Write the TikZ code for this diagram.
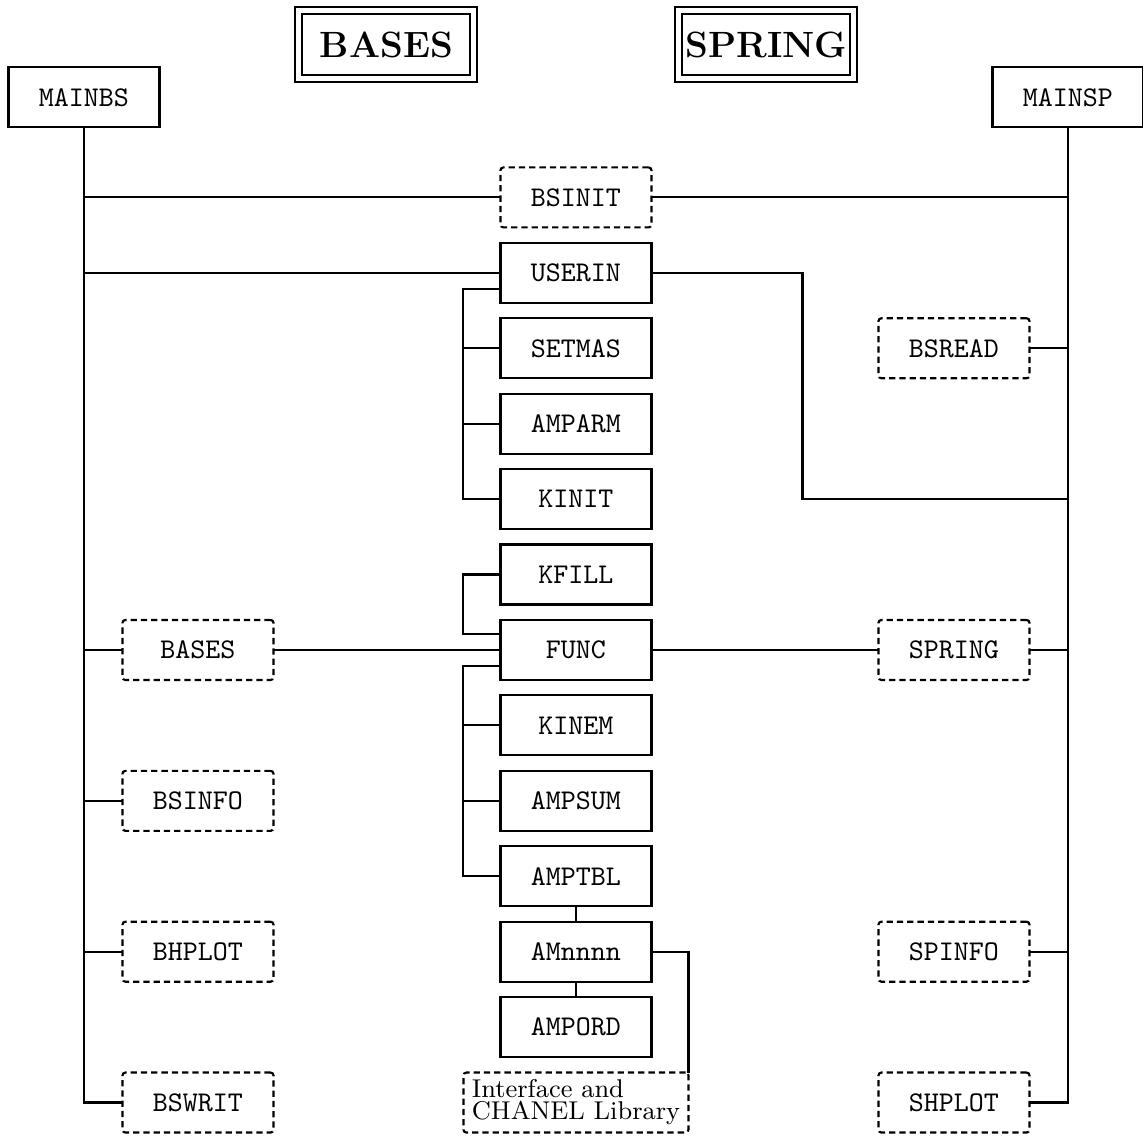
\documentclass[tikz,border=0pt]{standalone}
\usepackage{tikz}
\usetikzlibrary{positioning}
\tikzset{
  routine/.style={rectangle, minimum width=52.85pt, minimum height=21pt,
    inner sep=0pt, outer sep=0pt, draw=black, font=\ttfamily},
  optional/.style={routine, dash pattern=on 2.2pt off 1.4pt, rounded corners=1pt},
  header/.style={rectangle, draw=black, double, double distance=1.7pt,
    minimum width=61.25pt, minimum height=23.8pt, inner sep=0pt, outer sep=0pt,
    font=\fontsize{12.8}{15}\selectfont\bfseries},
  library/.style={optional, minimum width=78.75pt, align=left,
    font=\fontsize{9}{7.7}\selectfont},
  link/.style={line width=0.75pt}
}

\begin{document}
\begin{tikzpicture}[node distance=5.4pt and 79.45pt, link]
\useasboundingbox (-201.6pt,-328.7pt) rectangle (198.45pt,69.1pt);

% centre column
\node (bsinit) [optional] at (0,0)     {BSINIT};
\node (userin) [routine, below=of bsinit] {USERIN};
\node (setmas) [routine, below=of userin] {SETMAS};
\node (amparm) [routine, below=of setmas] {AMPARM};
\node (kinit)  [routine, below=of amparm] {KINIT};
\node (kfill)  [routine, below=of kinit]  {KFILL};
\node (func)   [routine, below=of kfill]  {FUNC};
\node (kinem)  [routine, below=of func]   {KINEM};
\node (ampsum) [routine, below=of kinem]  {AMPSUM};
\node (amptbl) [routine, below=of ampsum] {AMPTBL};
\node (amnnnn) [routine, below=of amptbl] {AMnnnn};
\node (ampord) [routine, below=of amnnnn] {AMPORD};
\node (chanel) [library, below=of ampord] {Interface and\\CHANEL Library};

% side columns
\node (bases)  [optional, left=of func]          {BASES};
\node (bsinfo) [optional, left=of ampsum]        {BSINFO};
\node (bhplot) [optional, left=of amnnnn]        {BHPLOT};
\node (bswrit) [optional, left=66.5pt of chanel] {BSWRIT};
\node (bsread) [optional, right=of setmas]        {BSREAD};
\node (spring) [optional, right=of func]          {SPRING};
\node (spinfo) [optional, right=of amnnnn]        {SPINFO};
\node (shplot) [optional, right=66.5pt of chanel] {SHPLOT};

% main programs and titles
\node (mainbs)  [routine, above left=14pt and 119.35pt of bsinit]  {MAINBS};
\node (mainsp)  [routine, above right=14pt and 119.35pt of bsinit] {MAINSP};
\node (tbases)  [header, above left=31pt and 9.3pt of bsinit]      {BASES};
\node (tspring) [header, above right=31pt and 9.6pt of bsinit]     {SPRING};

% MAINBS trunk
\draw (mainbs.south) |- (bswrit.west);
\draw (mainbs |- bsinit) -- (bsinit.west);
\draw (mainbs |- userin) -- (userin.west);
\draw (mainbs |- bases)  -- (bases.west);
\draw (mainbs |- bsinfo) -- (bsinfo.west);
\draw (mainbs |- bhplot) -- (bhplot.west);

% MAINSP trunk
\draw (mainsp.south) |- (shplot.east);
\draw (bsinit.east) -- (mainsp |- bsinit);
\draw (bsread.east) -- (mainsp |- bsread);
\draw (userin.east) -- ++(52.85pt,0) |- (mainsp |- kinit);
\draw (spring.east) -- (mainsp |- spring);
\draw (spinfo.east) -- (mainsp |- spinfo);

% centre column
\draw ([yshift=-5.6pt]userin.west) -- ++(-13pt,0) |- (kinit.west);
\draw (setmas.west) -- ++(-13pt,0);
\draw (amparm.west) -- ++(-13pt,0);
\draw (kfill.west) -- ++(-13pt,0) |- ([yshift=5.6pt]func.west);
\draw ([yshift=-5.6pt]func.west) -- ++(-13pt,0) |- (amptbl.west);
\draw (kinem.west)  -- ++(-13pt,0);
\draw (ampsum.west) -- ++(-13pt,0);
\draw (bases.east) -- (func.west);
\draw (func.east)  -- (spring.west);
\draw (amptbl) -- (amnnnn);
\draw (amnnnn) -- (ampord);
\draw (amnnnn.east) -| (chanel.north east);
\end{tikzpicture}
\end{document}
